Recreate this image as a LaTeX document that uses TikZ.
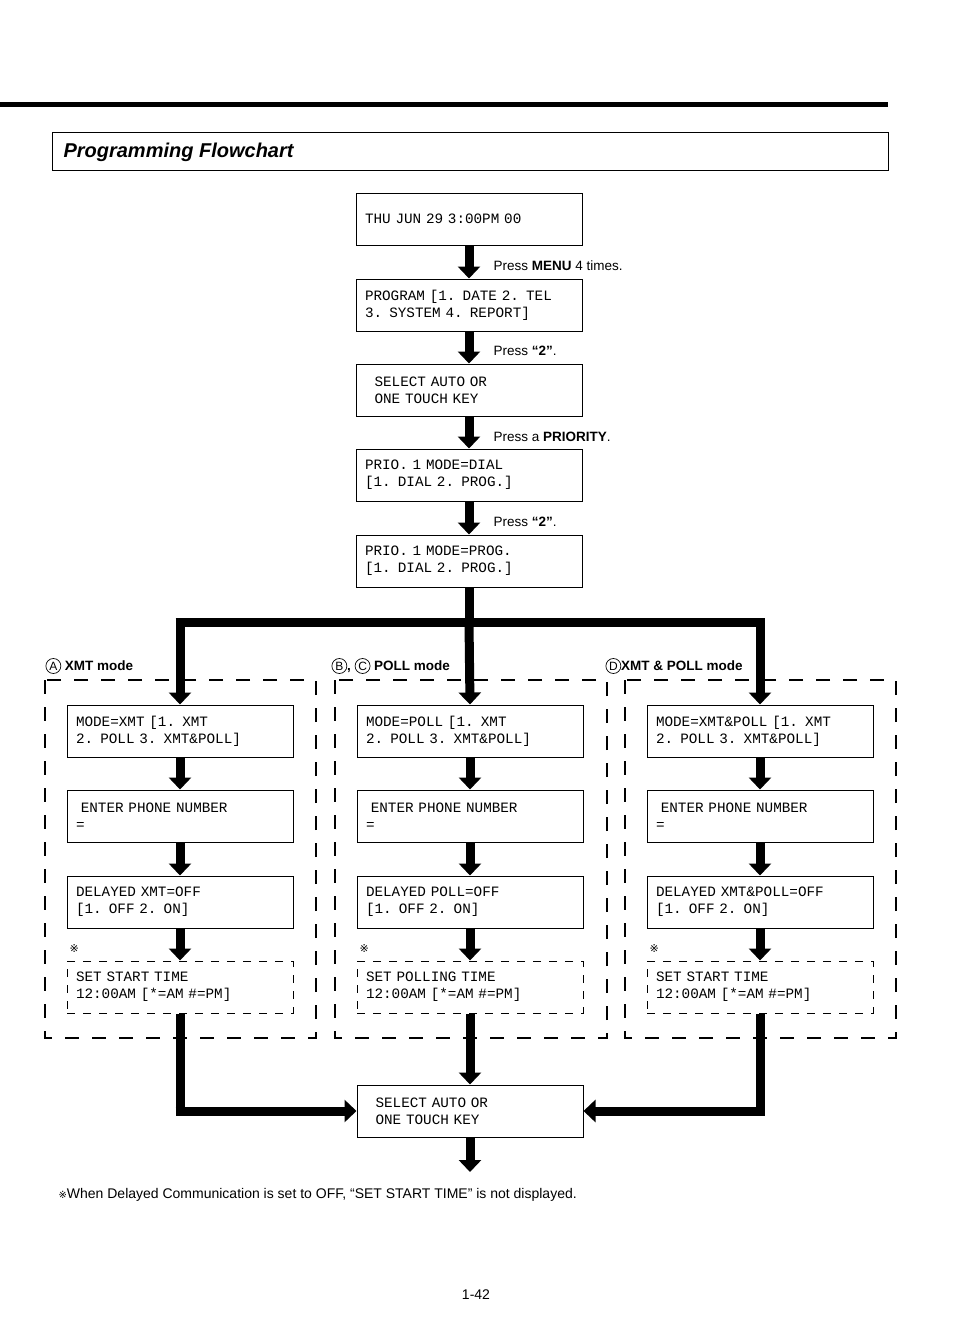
\documentclass[tikz,border=0pt]{standalone}
\usepackage{fontspec}
\setmainfont{Liberation Sans}
\newfontfamily\lcdfont{Liberation Mono}
\newfontfamily\symfont{DejaVu Sans}
\usetikzlibrary{arrows.meta}
\newcommand\lcdsize{\fontsize{14.3}{17}\selectfont\fontdimen2\font=0.6em\fontdimen3\font=0pt\fontdimen4\font=0pt}
\newcommand\circled[1]{\tikz[baseline=(c.base)]\node[draw,circle,line width=0.7pt,inner sep=0.6pt,minimum size=15pt,font=\mdseries\fontsize{12}{12}\selectfont](c){#1};}
\tikzset{
  lcd/.style={draw, line width=1pt, minimum width=226pt, minimum height=52pt, text width=208pt,
    inner sep=0pt, align=left, font=\lcdfont\lcdsize},
  lcdopt/.style={lcd, dash pattern=on 8pt off 8pt},
  bigarrow/.style={line width=9pt, -{Triangle[width=22pt,length=12pt]}},
  bigline/.style={line width=9pt},
  groupbox/.style={draw, line width=1.2pt, dash pattern=on 14pt off 13pt},
  steplabel/.style={anchor=west, font=\fontsize{13.5}{16}\selectfont},
  modelabel/.style={anchor=west, font=\bfseries\fontsize{13.5}{16}\selectfont}
}
\begin{document}
\begin{tikzpicture}[x=1pt,y=-1pt]
\useasboundingbox (0,0) rectangle (954,1323);

%header
\draw[line width=5pt] (0,104) -- (888,104);
\draw[line width=1pt] (52,132) rectangle (888,170);
\node[anchor=west, font=\bfseries\itshape\fontsize{20}{24}\selectfont] (title) at (60,152) {Programming Flowchart};

%top chain
\node[lcd] (clock) at (469,219) {THU JUN 29 3:00PM 00};
\node[lcd] (prog) at (469,305) {PROGRAM [1. DATE 2. TEL\\3. SYSTEM 4. REPORT]};
\node[lcd] (sel) at (469,390) {\ \ SELECT AUTO OR\\\ \ ONE TOUCH KEY};
\node[lcd] (dial) at (469,475) {PRIO. 1 MODE=DIAL\\{[1. DIAL 2. PROG.]}};
\node[lcd] (progmode) at (469,561) {PRIO. 1 MODE=PROG.\\{[1. DIAL 2. PROG.]}};

\draw[bigarrow] (clock.south) -- (prog.north);
\draw[bigarrow] (prog.south) -- (sel.north);
\draw[bigarrow] (sel.south) -- (dial.north);
\draw[bigarrow] (dial.south) -- (progmode.north);
\node[steplabel] (l1) at (490,266) {Press \textbf{MENU} 4 times.};
\node[steplabel] (l2) at (490,351) {Press \textbf{``2''}.};
\node[steplabel] (l3) at (490,437) {Press a \textbf{PRIORITY}.};
\node[steplabel] (l4) at (490,522) {Press \textbf{``2''}.};

%mode groups
\draw[groupbox] (45,680) rectangle (316,1038);
\draw[groupbox] (335,680) rectangle (607,1038);
\draw[groupbox] (625,680) rectangle (896,1038);
\node[modelabel] (la) at (42,666) {\circled{A} XMT mode};
\node[modelabel] (lb) at (328,666) {\circled{B}, \circled{C} POLL mode};
\node[modelabel] (ld) at (602,666) {\circled{D}XMT \& POLL mode};

\foreach \nm/\cx/\mode/\dly/\set in {a/180/MODE=XMT/DELAYED XMT=OFF/SET START TIME,
    b/470/MODE=POLL/DELAYED POLL=OFF/SET POLLING TIME,
    d/760/MODE=XMT\&POLL/DELAYED XMT\&POLL=OFF/SET START TIME}{
  \node[lcd] (\nm mode) at (\cx,731) {\mode\ [1. XMT\\2. POLL 3. XMT\&POLL]};
  \node[lcd] (\nm phone) at (\cx,816) {\ ENTER PHONE NUMBER\\=};
  \node[lcd] (\nm delay) at (\cx,902) {\dly\\{[1. OFF 2. ON]}};
  \node[lcdopt] (\nm set) at (\cx,987) {\set\\12:00AM [*=AM \#=PM]};
  \node[anchor=west, font=\symfont\fontsize{11}{12}\selectfont] (\nm note) at (\cx-114,949) {※};
  \draw[bigarrow] (\nm mode.south) -- (\nm phone.north);
  \draw[bigarrow] (\nm phone.south) -- (\nm delay.north);
  \draw[bigarrow] (\nm delay.south) -- (\nm set.north);
}

%branch
\coordinate (split) at (469,622);
\coordinate (splitA) at (180,622);
\coordinate (splitD) at (760,622);
\draw[bigline] (progmode.south) -- (split);
\draw[bigline] ([xshift=-4.5pt]splitA) -- ([xshift=4.5pt]splitD);
\draw[bigarrow] (splitA) -- (amode.north);
\draw[bigarrow] (split) -- (bmode.north);
\draw[bigarrow] (splitD) -- (dmode.north);

%merge
\node[lcd] (final) at (470,1111) {\ \ SELECT AUTO OR\\\ \ ONE TOUCH KEY};
\coordinate (cornerA) at (180,1111);
\coordinate (cornerD) at (760,1111);
\coordinate (finalend) at (470,1172);
\draw[bigline] (aset.south) -- ([yshift=4.5pt]cornerA);
\draw[bigarrow] ([xshift=-4.5pt]cornerA) -- (final.west);
\draw[bigarrow] (bset.south) -- (final.north);
\draw[bigline] (dset.south) -- ([yshift=4.5pt]cornerD);
\draw[bigarrow] ([xshift=4.5pt]cornerD) -- (final.east);
\draw[bigarrow] (final.south) -- (finalend);

%footnote
\node[anchor=west, font=\fontsize{14}{16}\selectfont] (foot) at (55,1195) {{\symfont\fontsize{10}{12}\selectfont ※}When Delayed Communication is set to OFF, ``SET START TIME'' is not displayed.};
\node[font=\fontsize{14}{16}\selectfont] (page) at (476,1295) {1-42};
\end{tikzpicture}
\end{document}
